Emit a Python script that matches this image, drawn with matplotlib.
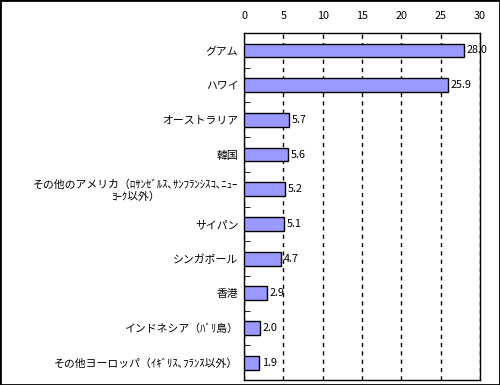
import numpy as np
import matplotlib
matplotlib.use("Agg")
import matplotlib.pyplot as plt
from matplotlib.patches import Rectangle

plt.rcParams['font.family'] = ['Noto Sans CJK JP', 'DejaVu Sans']

# destinations, top to bottom
places = [
    "グアム",
    "ハワイ",
    "オーストラリア",
    "韓国",
    "その他のアメリカ（ﾛｻﾝｾﾞﾙｽ､ｻﾝﾌﾗﾝｼｽｺ､ﾆｭｰ\nﾖｰｸ以外）",
    "サイパン",
    "シンガポール",
    "香港",
    "インドネシア（ﾊﾞﾘ島）",
    "その他ヨーロッパ（ｲｷﾞﾘｽ､ﾌﾗﾝｽ以外）",
]
share = [28.0, 25.9, 5.7, 5.6, 5.2, 5.1, 4.7, 2.9, 2.0, 1.9]
xticks = [0, 5, 10, 15, 20, 25, 30]

fig = plt.figure(figsize=(5, 3.85), dpi=100)
ax = fig.add_axes([0.488, 0.013, 0.472, 0.901])

y = np.arange(len(places))
ax.barh(y, share, height=0.4, color="#9999FF", edgecolor="black", linewidth=1, zorder=3)
for yi, v in zip(y, share):
    ax.annotate(f"{v:.1f}", (v, yi), xytext=(2, 0), textcoords="offset points",
                va="center", ha="left", fontsize=7.8)

ax.set_xlim(0, 30)
ax.set_ylim(len(places) - 0.5, -0.5)
ax.set_xticks(xticks)
ax.xaxis.tick_top()
ax.tick_params(axis="x", length=0, pad=9, labelsize=7.8)
ax.set_yticks(y)
ax.set_yticklabels(places, fontsize=7.8, multialignment="center")
ax.tick_params(axis="y", which="major", length=0, pad=4)
ax.set_yticks(np.arange(-0.5, len(places), 1), minor=True)
ax.tick_params(axis="y", which="minor", direction="in", length=4, color="black")

ax.grid(axis="x", color="black", linestyle=(0, (3, 3)), linewidth=1, zorder=0)
ax.set_axisbelow(True)
for s in ax.spines.values():
    s.set_linewidth(1)
    s.set_color("black")

fig.patches.append(Rectangle((0, 0), 1, 1, transform=fig.transFigure,
                             fill=False, edgecolor="black", linewidth=2))

fig.savefig("out.png", dpi=100)
